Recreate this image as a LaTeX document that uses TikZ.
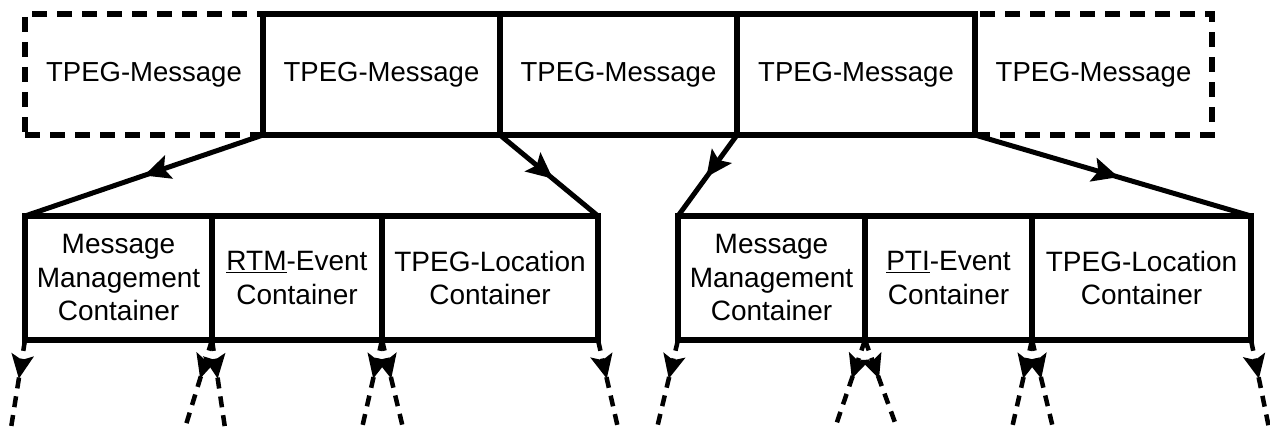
\documentclass[tikz,border=0pt]{standalone}
\usepackage{fontspec}
\setmainfont{Liberation Sans}
\usetikzlibrary{arrows.meta,decorations.markings}
\tikzset{
  box/.style={draw, line width=5.5pt, minimum width=#1, inner sep=0pt, outer sep=0pt,
    anchor=north west, align=center},
  topbox/.style={box=#1, minimum height=121pt, font=\fontsize{27.5}{33.5}\selectfont},
  subbox/.style={box=#1, minimum height=124pt, font=\fontsize{28}{33.5}\selectfont},
  ghost/.style={dash pattern=on 15pt off 10pt},
  midarrow/.style={line width=5pt, postaction={decorate},
    decoration={markings, mark=at position #1 with {\arrow{Stealth[length=26pt,width=24pt,inset=5pt]}}}},
  outarrow/.style={line width=4.5pt, dash pattern=on 11pt off 8pt, postaction={decorate},
    decoration={markings, mark=at position 0.44 with {\arrow{Stealth[length=24pt,width=22pt,inset=5pt]}}}}
}
\begin{document}
\begin{tikzpicture}[x=1pt,y=-1pt]
\useasboundingbox (0,0) rectangle (1270,428);
\fill[white] (0,0) rectangle (1270,428);
% top row
\node[topbox=238pt, ghost] (m1) at (25,14) {TPEG-Message};
\node[topbox=237pt, ghost] (m5) at (975,14) {TPEG-Message};
\node[topbox=237pt] (m2) at (263,14) {TPEG-Message};
\node[topbox=237pt] (m3) at (500,14) {TPEG-Message};
\node[topbox=238pt] (m4) at (737,14) {TPEG-Message};
% left group
\node[subbox=187pt] (a1) at (25,216) {Message\\Management\\Container};
\node[subbox=170pt] (a2) at (212,216) {\underline{RTM}-Event\\Container};
\node[subbox=216pt] (a3) at (382,216) {TPEG-Location\\Container};
% right group
\node[subbox=187pt] (b1) at (678,216) {Message\\Management\\Container};
\node[subbox=167pt] (b2) at (865,216) {\underline{PTI}-Event\\Container};
\node[subbox=219pt] (b3) at (1032,216) {TPEG-Location\\Container};
% connectors from messages
\draw[midarrow=0.50] (m2.south west) -- (a1.north west);
\draw[midarrow=0.54] (m3.south west) -- (a3.north east);
\draw[midarrow=0.52] (m4.south west) -- (b1.north west);
\draw[midarrow=0.52] (m5.south west) -- (b3.north east);
% outgoing dashed connectors
\coordinate (e1) at (11,428);
\coordinate (e2) at (185,428);
\coordinate (e3) at (225,428);
\coordinate (e4) at (362,428);
\coordinate (e5) at (403,428);
\coordinate (e6) at (618,428);
\coordinate (f1) at (657,428);
\coordinate (f2) at (835,428);
\coordinate (f3) at (897,428);
\coordinate (f4) at (1012,428);
\coordinate (f5) at (1053,428);
\coordinate (f6) at (1269,428);
\draw[outarrow] (a1.south west) -- (e1);
\draw[outarrow] (a2.south west) -- (e2);
\draw[outarrow] (a2.south west) -- (e3);
\draw[outarrow] (a3.south west) -- (e4);
\draw[outarrow] (a3.south west) -- (e5);
\draw[outarrow] (a3.south east) -- (e6);
\draw[outarrow] (b1.south west) -- (f1);
\draw[outarrow] (b2.south west) -- (f2);
\draw[outarrow] (b2.south west) -- (f3);
\draw[outarrow] (b3.south west) -- (f4);
\draw[outarrow] (b3.south west) -- (f5);
\draw[outarrow] (b3.south east) -- (f6);
\end{tikzpicture}
\end{document}
